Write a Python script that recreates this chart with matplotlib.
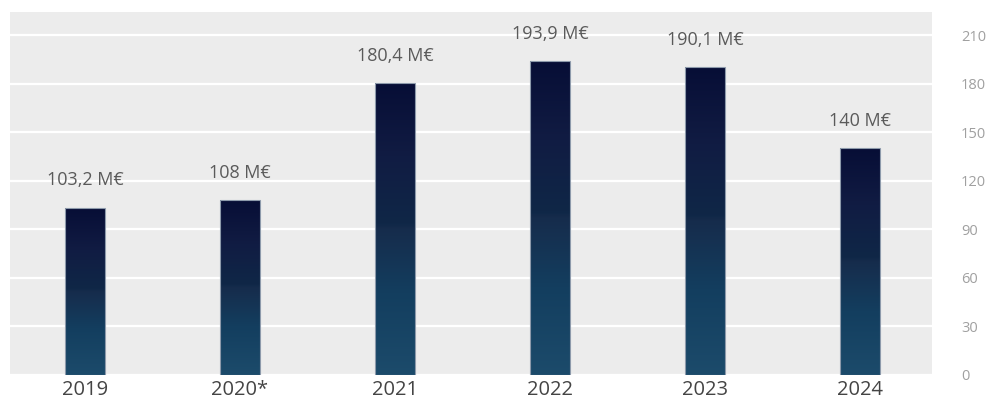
import matplotlib
matplotlib.use("Agg")
import matplotlib.pyplot as plt
import numpy as np
from matplotlib.colors import LinearSegmentedColormap

plt.rcParams['font.family'] = ['Open Sans', 'DejaVu Sans']

years = ["2019", "2020*", "2021", "2022", "2023", "2024"]
values = [103.2, 108.0, 180.4, 193.9, 190.1, 140.0]
value_labels = ["103,2 M€", "108 M€", "180,4 M€", "193,9 M€", "190,1 M€", "140 M€"]
yticks = [0, 30, 60, 90, 120, 150, 180, 210]

fig = plt.figure(figsize=(9.89, 4.03), dpi=100)
W, H = 989, 403
ax = fig.add_axes([10 / W, 1 - 374.5 / H, (932 - 10) / W, (374.5 - 12) / H])
ax.set_facecolor('#ececec')

x = np.arange(len(years))
bars = ax.bar(x, values, width=0.258, facecolor='none', edgecolor='#8d9aab',
              linewidth=0.8, zorder=3)

cmap = LinearSegmentedColormap.from_list('g', [
    (0.0, '#1c4b6b'), (0.28, '#133e5f'), (0.5, '#162c4c'), (0.52, '#0f2747'),
    (0.75, '#111c43'), (1.0, '#070e36')])
grad = np.linspace(0, 1, 256).reshape(-1, 1)
for b in bars:
    x0, y0 = b.get_x(), b.get_y()
    w, h = b.get_width(), b.get_height()
    im = ax.imshow(grad, cmap=cmap, origin='lower', aspect='auto',
                   extent=[x0, x0 + w, y0, y0 + h], zorder=2,
                   interpolation='bilinear')
    im.set_clip_path(b)

for xi, v, lab in zip(x, values, value_labels):
    ax.annotate(lab, (xi, v), xytext=(0, 16), textcoords='offset points',
                ha='center', va='baseline', fontsize=13, color='#5a5a5a')

ax.set_xlim(-0.484, 5.465)
ax.set_ylim(0, 224.3)
ax.set_xticks(x)
ax.set_xticklabels(years, fontsize=14.5, color='#444444')
ax.yaxis.tick_right()
ax.set_yticks(yticks)
ax.set_yticklabels([str(t) for t in yticks], fontsize=10.5, color='#a0a0a0')
ax.tick_params(axis='y', length=0, pad=21)
ax.tick_params(axis='x', length=0, pad=4)
for s in ax.spines.values():
    s.set_visible(False)
ax.grid(axis='y', color='white', linewidth=1.6, zorder=1)
ax.set_axisbelow(True)

fig.savefig('out.png', dpi=100, facecolor='white')
